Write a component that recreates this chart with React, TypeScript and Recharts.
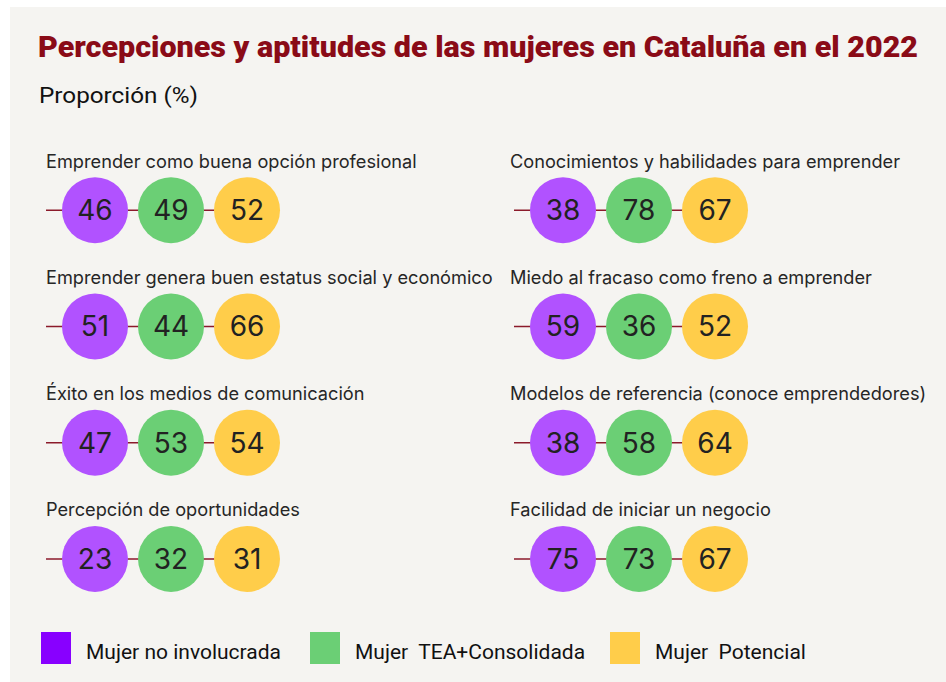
import React from "react";
import { ScatterChart, Scatter, XAxis, YAxis } from "recharts";

// indicadores (columna izquierda primero, luego derecha)
const indicadores = [
	"Emprender como buena opción profesional",
	"Emprender genera buen estatus social y económico",
	"Éxito en los medios de comunicación",
	"Percepción de oportunidades",
	"Conocimientos y habilidades para emprender",
	"Miedo al fracaso como freno a emprender",
	"Modelos de referencia (conoce emprendedores)",
	"Facilidad de iniciar un negocio",
];

const series = ["Mujer no involucrada", "Mujer  TEA+Consolidada", "Mujer  Potencial"];

const noInvolucrada = [46, 51, 47, 23, 38, 59, 38, 75];
const teaConsolidada = [49, 44, 53, 32, 78, 36, 58, 73];
const potencial = [52, 66, 54, 31, 67, 52, 64, 67];

const valores = [noInvolucrada, teaConsolidada, potencial];
const circleColors = ["#b152ff", "#6bcf75", "#ffcd4a"];
const legendColors = ["#8800ff", "#6bcf75", "#ffcd4a"];

const PLOT_W = 228;
const STEP = PLOT_W / 3;
const RADIUS = 33;
const STUB = 49;
const PLOT_H = 465;
const MARGIN_TOP = 32;
const CHART_H = MARGIN_TOP + PLOT_H + 5;

const buildSeries = (cols: number[], serieIdx: number) =>
	cols.map((i) => ({
		ind: indicadores[i],
		serie: series[serieIdx],
		value: valores[serieIdx][i],
	}));

// the first series also draws the connecting line and the indicator label
const makeShape = (serieIdx: number, labelOffset: number) => (props: any) => {
	const { cx, cy, payload } = props;
	return (
		<g>
			{serieIdx === 0 && (
				<>
					<line
						x1={cx - STUB}
						x2={cx + 2 * STEP}
						y1={cy}
						y2={cy}
						stroke="#8b1a2b"
						strokeWidth={1.5}
					/>
					<text
						x={cx - labelOffset}
						y={cy - 49}
						dy={6.5}
						fontFamily="Inter, sans-serif"
						fontSize={18.2}
						fill="#262626"
					>
						{payload.ind}
					</text>
				</>
			)}
			<circle cx={cx} cy={cy} r={RADIUS} fill={circleColors[serieIdx]} />
			<text
				x={cx}
				y={cy}
				dy={10}
				textAnchor="middle"
				fontFamily="Inter, sans-serif"
				fontSize={28}
				fill="#222"
			>
				{payload.value}
			</text>
		</g>
	);
};

const Column = ({
	cols,
	left,
	width,
	marginLeft,
	labelOffset,
}: {
	cols: number[];
	left: number;
	width: number;
	marginLeft: number;
	labelOffset: number;
}) => (
	<div style={{ position: "absolute", left, top: 120 }}>
		<ScatterChart
			width={width}
			height={CHART_H}
			margin={{
				top: MARGIN_TOP,
				left: marginLeft,
				right: width - marginLeft - PLOT_W,
				bottom: 5,
			}}
			style={{ overflow: "visible" }}
		>
			<XAxis
				type="category"
				dataKey="serie"
				allowDuplicatedCategory={false}
				scale="band"
				hide
			/>
			<YAxis
				type="category"
				dataKey="ind"
				allowDuplicatedCategory={false}
				scale="band"
				reversed
				hide
			/>
			{series.map((s, k) => (
				<Scatter
					key={s}
					name={s}
					data={buildSeries(cols, k)}
					fill={circleColors[k]}
					shape={makeShape(k, labelOffset)}
					isAnimationActive={false}
				/>
			))}
		</ScatterChart>
	</div>
);

export default function App() {
	return (
		<div
			style={{
				position: "absolute",
				left: 0,
				top: 0,
				width: 946,
				height: 682,
				background: "#fff",
				overflow: "hidden",
			}}
		>
			<div
				style={{
					position: "absolute",
					left: 10,
					top: 7,
					width: 936,
					height: 675,
					background: "#f5f4f1",
				}}
			/>
			<svg
				width={946}
				height={120}
				style={{ position: "absolute", left: 0, top: 0 }}
			>
				<text
					x={38}
					y={57}
					textLength={880}
					lengthAdjust="spacingAndGlyphs"
					fontFamily="Roboto, sans-serif"
					fontWeight={900}
					fontSize={30}
					fill="#8a0b17"
				>
					Percepciones y aptitudes de las mujeres en Cataluña en el 2022
				</text>
				<text
					x={39}
					y={103}
					textLength={159}
					lengthAdjust="spacingAndGlyphs"
					fontFamily="Roboto, sans-serif"
					fontSize={22}
					fill="#111"
				>
					Proporción (%)
				</text>
			</svg>
			<Column cols={[0, 1, 2, 3]} left={36} width={480} marginLeft={21} labelOffset={49} />
			<Column cols={[4, 5, 6, 7]} left={500} width={444} marginLeft={25} labelOffset={53} />
			<div style={{ position: "absolute", left: 0, top: 0 }}>
				{series.map((s, k) => {
					const xs = [41, 310, 610];
					return (
						<div key={s}>
							<div
								style={{
									position: "absolute",
									left: xs[k],
									top: 632,
									width: 30,
									height: 32,
									background: legendColors[k],
								}}
							/>
							<div
								style={{
									position: "absolute",
									left: xs[k] + 45,
									top: 638,
									fontFamily: "Roboto, sans-serif",
									fontSize: 21,
									lineHeight: "28px",
									whiteSpace: "pre",
									color: "#111",
								}}
							>
								{s}
							</div>
						</div>
					);
				})}
			</div>
		</div>
	);
}
